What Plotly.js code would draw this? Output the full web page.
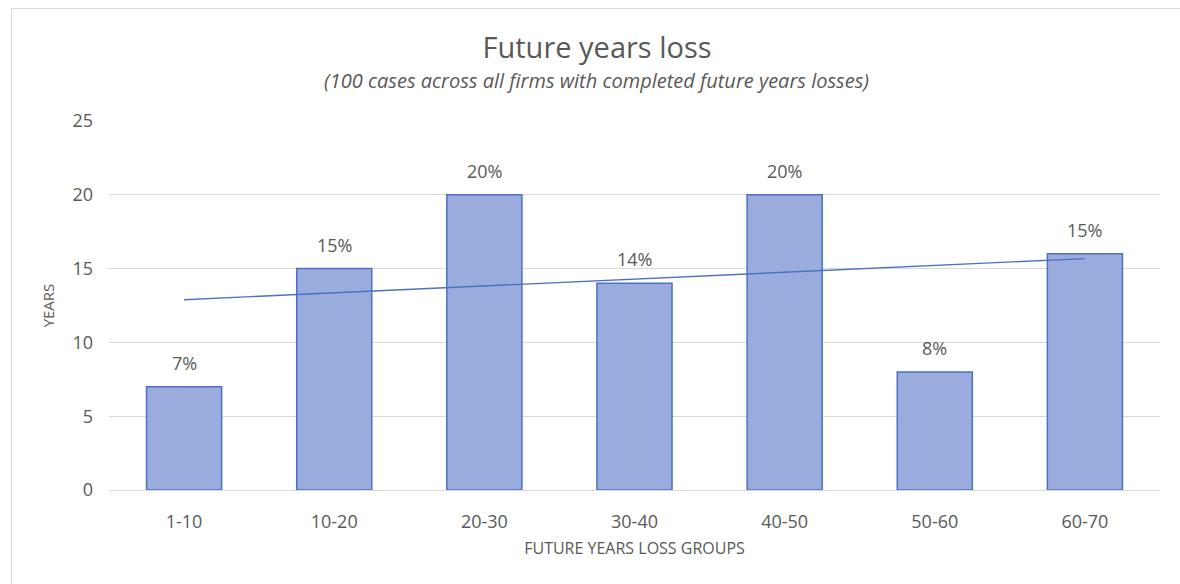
<!DOCTYPE html>
<html>
<head>
<meta charset="utf-8">
<script src="https://cdn.plot.ly/plotly-3.0.1.min.js"></script>
<style>
  html, body { margin: 0; padding: 0; background: #ffffff; }
  #wrap { position: relative; width: 1180px; height: 584px; }
  #chart { width: 1180px; height: 584px; }
  #frame { position: absolute; left: 11px; top: 8px; width: 1180px; height: 600px;
           border: 1px solid #d9d9d9; pointer-events: none; }
</style>
</head>
<body>
<div id="wrap">
  <div id="chart"></div>
  <div id="frame"></div>
</div>
<script>
// Loss groups (years) and number of years lost per group
const groups = ['1-10', '10-20', '20-30', '30-40', '40-50', '50-60', '60-70'];
const years = [7, 15, 20, 14, 20, 8, 16];
const shareLabels = ['7%', '15%', '20%', '14%', '20%', '8%', '15%'];

const chartTitle = 'Future years loss';
const chartSubtitle = '(100 cases across all firms with completed future years losses)';
const xTitle = 'FUTURE YEARS LOSS GROUPS';
const yTitle = 'YEARS';

// Least-squares linear trend over the category index
function linearTrend(vals) {
  const n = vals.length;
  const xs = vals.map((_, i) => i + 1);
  const mx = xs.reduce((a, b) => a + b, 0) / n;
  const my = vals.reduce((a, b) => a + b, 0) / n;
  let sxy = 0, sxx = 0;
  for (let i = 0; i < n; i++) {
    sxy += (xs[i] - mx) * (vals[i] - my);
    sxx += (xs[i] - mx) * (xs[i] - mx);
  }
  const slope = sxy / sxx;
  return xs.map(x => my + slope * (x - mx));
}
const trend = linearTrend(years);

const FONT = '"Open Sans", Lato, sans-serif';
const GREY = '#595959';

const bars = {
  type: 'bar',
  x: groups,
  y: years,
  marker: { color: '#9aacdd', line: { color: '#4a72c2', width: 1.5 } },
  width: 0.5,
  hoverinfo: 'x+y',
  showlegend: false
};

const trendLine = {
  type: 'scatter',
  mode: 'lines',
  x: groups,
  y: trend,
  line: { color: '#4a72c2', width: 1.4 },
  hoverinfo: 'skip',
  showlegend: false
};

const labelNotes = groups.map((g, i) => ({
  x: g, y: years[i], xref: 'x', yref: 'y',
  text: shareLabels[i], showarrow: false,
  yshift: 24,
  font: { family: FONT, size: 18, color: GREY }
}));

const layout = {
  width: 1180,
  height: 584,
  margin: { l: 109, r: 20, t: 121, b: 94 },
  paper_bgcolor: 'rgba(0,0,0,0)',
  plot_bgcolor: '#ffffff',
  font: { family: FONT, color: GREY, size: 14 },
  title: {
    text: chartTitle,
    font: { family: FONT, size: 29, color: GREY },
    x: 0.506, xanchor: 'center',
    y: 0.918, yanchor: 'middle'
  },
  xaxis: {
    type: 'category',
    range: [-0.5, 6.5],
    showgrid: false,
    showline: true,
    linecolor: '#d9d9d9',
    linewidth: 1,
    ticks: '',
    ticklabelstandoff: 15,
    tickfont: { family: FONT, size: 18, color: GREY },
    title: {
      text: xTitle,
      font: { family: FONT, size: 16, color: GREY },
      standoff: 11
    },
    fixedrange: true
  },
  yaxis: {
    range: [0, 25],
    dtick: 5,
    showgrid: true,
    gridcolor: '#d9d9d9',
    gridwidth: 1,
    zeroline: false,
    showline: false,
    ticks: '',
    ticklabelstandoff: 15,
    tickfont: { family: FONT, size: 18, color: GREY },
    title: {
      text: yTitle,
      font: { family: FONT, size: 15, color: GREY },
      standoff: 14
    },
    fixedrange: true
  },
  annotations: [
    {
      text: '<i>' + chartSubtitle + '</i>',
      xref: 'paper', yref: 'paper',
      x: 0.464, y: 1.111, xanchor: 'center', yanchor: 'middle',
      showarrow: false,
      font: { family: FONT, size: 20, color: GREY }
    }
  ].concat(labelNotes)
};

Plotly.newPlot('chart', [bars, trendLine], layout, { displayModeBar: false, staticPlot: true });
</script>
</body>
</html>
